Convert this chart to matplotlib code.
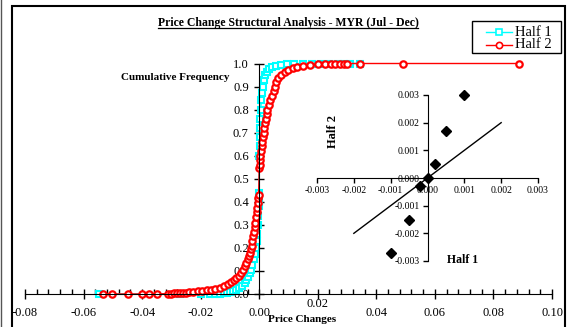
import matplotlib
matplotlib.use("Agg")
import matplotlib.pyplot as plt
from matplotlib.lines import Line2D
from matplotlib.patches import Rectangle
from matplotlib.ticker import MultipleLocator, FormatStrFormatter, FuncFormatter
from matplotlib.transforms import blended_transform_factory

plt.rcParams['font.family'] = ['Liberation Serif', 'DejaVu Serif']

# Half 1: sorted price change vs cumulative frequency
half1_change = [-0.0546, -0.0270, -0.0200, -0.0167, -0.0150, -0.0135, -0.0120, -0.0110,
                -0.0100, -0.0090, -0.0080, -0.0070, -0.0060, -0.0050, -0.0044, -0.0038,
                -0.0032, -0.0027, -0.0023, -0.0019, -0.0015, -0.0012, -0.0009, -0.0007,
                -0.0005, -0.0003, -0.0002, -0.0001, 0.0000, 0.0000, 0.0001, 0.0002,
                0.0003, 0.0004, 0.0005, 0.0007, 0.0009, 0.0012, 0.0016, 0.0020,
                0.0027, 0.0035, 0.0045, 0.0058, 0.0075, 0.0095, 0.0120, 0.0150,
                0.0180, 0.0210, 0.0240, 0.0270, 0.0290, 0.0310, 0.0345]
half1_cum = [0.000, 0.000, 0.000, 0.000, 0.001, 0.002, 0.004, 0.006,
             0.009, 0.012, 0.018, 0.025, 0.035, 0.048, 0.060, 0.075,
             0.090, 0.105, 0.125, 0.150, 0.175, 0.200, 0.230, 0.260,
             0.300, 0.340, 0.380, 0.410, 0.440, 0.600, 0.640, 0.680,
             0.720, 0.760, 0.800, 0.840, 0.870, 0.900, 0.930, 0.950,
             0.965, 0.975, 0.983, 0.990, 0.995, 0.998, 0.999, 1.000,
             1.000, 1.000, 1.000, 1.000, 1.000, 1.000, 1.000]

# Half 2: sorted price change vs cumulative frequency
half2_change = [-0.0533, -0.0502, -0.0447, -0.0400, -0.0376, -0.0348, -0.0310, -0.0300,
                -0.0290, -0.0280, -0.0270, -0.0260, -0.0250, -0.0240, -0.0225, -0.0210,
                -0.0195, -0.0180, -0.0165, -0.0150, -0.0135, -0.0120, -0.0105, -0.0095,
                -0.0085, -0.0078, -0.0070, -0.0062, -0.0056, -0.0050, -0.0045, -0.0040,
                -0.0036, -0.0032, -0.0029, -0.0026, -0.0023, -0.0020, -0.0018, -0.0016,
                -0.0014, -0.0011, -0.0009, -0.0007, -0.0005, -0.0003, -0.0002, 0.0000,
                0.0001, 0.0002, 0.0004, 0.0006, 0.0008, 0.0010, 0.0012, 0.0015,
                0.0017, 0.0019, 0.0022, 0.0025, 0.0028, 0.0032, 0.0038, 0.0045,
                0.0050, 0.0053, 0.0058, 0.0065, 0.0075, 0.0088, 0.0100, 0.0115,
                0.0130, 0.0150, 0.0175, 0.0200, 0.0225, 0.0245, 0.0260, 0.0275,
                0.0290, 0.0300, 0.0345, 0.0490, 0.0888]
half2_cum = [0.000, 0.000, 0.000, 0.000, 0.000, 0.000, 0.002, 0.002,
             0.003, 0.003, 0.004, 0.005, 0.006, 0.007, 0.009, 0.011,
             0.013, 0.016, 0.019, 0.023, 0.028, 0.034, 0.042, 0.050,
             0.060, 0.070, 0.080, 0.092, 0.105, 0.120, 0.135, 0.150,
             0.165, 0.180, 0.195, 0.210, 0.230, 0.250, 0.270, 0.290,
             0.310, 0.335, 0.355, 0.375, 0.395, 0.415, 0.430, 0.545,
             0.560, 0.580, 0.600, 0.620, 0.640, 0.660, 0.680, 0.700,
             0.720, 0.740, 0.760, 0.780, 0.800, 0.820, 0.840, 0.860,
             0.880, 0.900, 0.920, 0.935, 0.950, 0.962, 0.972, 0.980,
             0.986, 0.991, 0.995, 0.997, 0.999, 1.000, 1.000, 1.000,
             1.000, 1.000, 1.000, 1.000, 1.000]

# inset: half 1 vs half 2 quantiles
q_half1 = [-0.0010, -0.0005, -0.0002, 0.0000, 0.0002, 0.0005, 0.0010]
q_half2 = [-0.0027, -0.0015, -0.0003, 0.0000, 0.0005, 0.0017, 0.0030]
ref_line = [-0.002, 0.002]

series_names = ["Half 1", "Half 2"]
series_colors = ["#00FFFF", "#FF0000"]
series_markers = ["s", "o"]

W, H = 571, 327


def fx(px):
    return px / W


def fy(py):
    return 1 - py / H


fig = plt.figure(figsize=(W / 100, H / 100), dpi=100)

# main cumulative frequency chart
ax = fig.add_axes([fx(25), fy(294), (552 - 25) / W, (294 - 63.5) / H])
ax.patch.set_visible(False)
ax.plot(half1_change, half1_cum, color=series_colors[0], lw=1, marker="s", ms=4.0,
        mfc="white", mec=series_colors[0], mew=1.5, clip_on=False)
ax.plot(half2_change, half2_cum, color=series_colors[1], lw=1, marker="o", ms=4.6,
        mfc="white", mec=series_colors[1], mew=1.6, clip_on=False)
ax.set_xlim(-0.08, 0.10)
ax.set_ylim(0, 1.0)
for s in ["top", "right"]:
    ax.spines[s].set_visible(False)
ax.spines["left"].set_position(("data", 0))
ax.spines["left"].set_zorder(5)
ax.xaxis.set_major_locator(MultipleLocator(0.02))
ax.xaxis.set_minor_locator(MultipleLocator(0.004))
# the 0.02 label sits a bit higher in the original (pushed up by the axis title)
ax.xaxis.set_major_formatter(FuncFormatter(lambda v, p: "" if abs(v - 0.02) < 1e-9 else f"{v:.2f}"))
ax.yaxis.set_major_locator(MultipleLocator(0.1))
ax.yaxis.set_major_formatter(FormatStrFormatter("%.1f"))
ax.tick_params(axis="x", which="major", direction="inout", length=7, width=1, labelsize=9, pad=6)
ax.tick_params(axis="x", which="minor", direction="in", length=3.5, width=1)
ax.tick_params(axis="y", which="major", direction="inout", length=7, width=1, labelsize=9, pad=4)
ax.text(0.02, fy(304), "0.02", fontsize=9, ha="center", va="center",
        transform=blended_transform_factory(ax.transData, fig.transFigure))

# inset scatter
ins = fig.add_axes([fx(317), fy(261), (538 - 317) / W, (261 - 95) / H])
ins.patch.set_visible(False)
ins.plot(ref_line, ref_line, color="black", lw=1)
ins.plot(q_half1, q_half2, ls="none", marker="D", ms=5.5, color="black", clip_on=False)
ins.set_xlim(-0.003, 0.003)
ins.set_ylim(-0.003, 0.003)
for s in ["top", "right"]:
    ins.spines[s].set_visible(False)
ins.spines["left"].set_position(("data", 0))
ins.spines["bottom"].set_position(("data", 0))
ins.xaxis.set_major_locator(MultipleLocator(0.001))
ins.yaxis.set_major_locator(MultipleLocator(0.001))
ins.xaxis.set_major_formatter(FormatStrFormatter("%.3f"))
ins.yaxis.set_major_formatter(FormatStrFormatter("%.3f"))
ins.tick_params(direction="out", length=3.5, width=1, labelsize=7, pad=2)

# texts
title = fig.text(fx(288), fy(23), "Price Change Structural Analysis - MYR (Jul - Dec)",
                 ha="center", va="center", fontsize=8.5, fontweight="bold")
fig.text(fx(175), fy(78), "Cumulative Frequency", ha="center", va="center",
         fontsize=8, fontweight="bold")
fig.text(fx(302), fy(320), "Price Changes", ha="center", va="center",
         fontsize=8, fontweight="bold")
fig.text(fx(333), fy(132), "Half 2", ha="center", va="center", rotation=90,
         fontsize=9, fontweight="bold")
fig.text(fx(463), fy(260), "Half 1", ha="center", va="center",
         fontsize=8.5, fontweight="bold")

# legend box, drawn by hand to match the padding
fig.add_artist(Rectangle((fx(472), fy(53)), (561 - 472) / W, (53 - 21) / H, fill=True,
                         facecolor="white", edgecolor="black", lw=1,
                         transform=fig.transFigure))
for i, name in enumerate(series_names):
    yy = fy(32 + 13 * i)
    fig.add_artist(Line2D([fx(486), fx(512)], [yy, yy], color=series_colors[i], lw=1,
                          transform=fig.transFigure))
    fig.add_artist(Line2D([fx(499)], [yy], ls="none", marker=series_markers[i], ms=4.5,
                          mfc="white", mec=series_colors[i], mew=1.2,
                          transform=fig.transFigure))
    fig.text(fx(515), yy, name, ha="left", va="center", fontsize=10.5)

# outer chart frame
fig.add_artist(Rectangle((fx(12), -0.1), (565 - 12) / W, fy(5.5) + 0.1, fill=False,
                         edgecolor="black", lw=1.5, transform=fig.transFigure))
fig.add_artist(Line2D([fx(0.5), fx(0.5)], [0, 1], color="#555555", lw=1,
                      transform=fig.transFigure))

# underline title
fig.canvas.draw()
bb = title.get_window_extent()
fig.add_artist(Line2D([bb.x0 / W, bb.x1 / W], [(bb.y0 + 1) / H, (bb.y0 + 1) / H],
                      color="black", lw=0.9, transform=fig.transFigure))

fig.savefig("out.png", dpi=100)
